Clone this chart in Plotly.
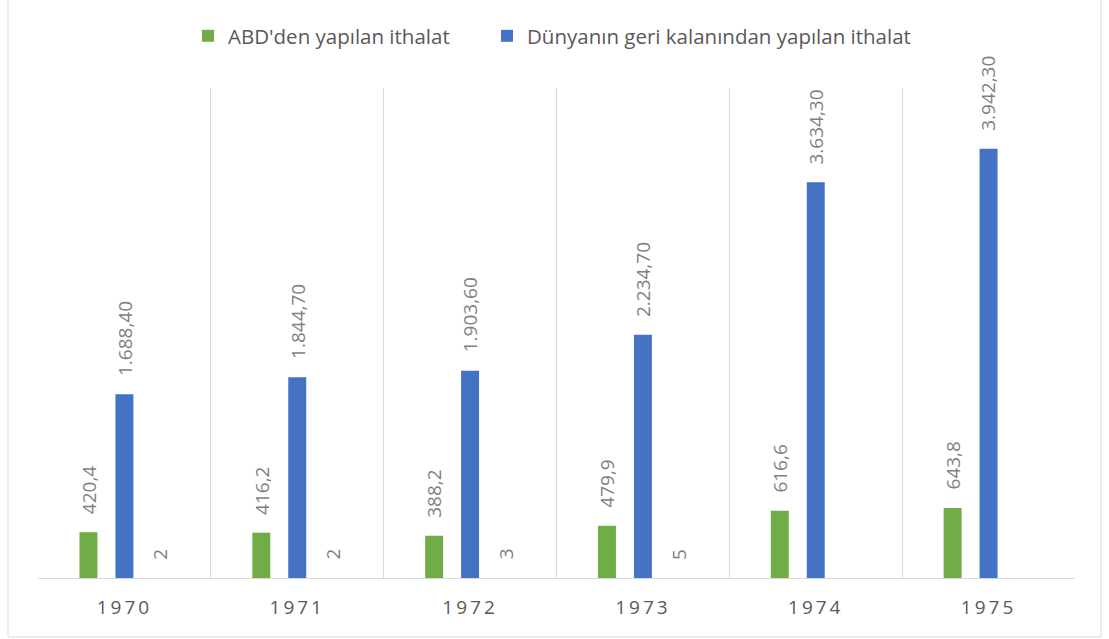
import plotly.graph_objects as go

years = ["1970", "1971", "1972", "1973", "1974", "1975"]
abd_imports = [420.4, 416.2, 388.2, 479.9, 616.6, 643.8]
world_imports = [1688.4, 1844.7, 1903.6, 2234.7, 3634.3, 3942.3]
third_series = [2, 2, 3, 5, None, None]

series_names = ["ABD'den yapılan ithalat", "Dünyanın geri kalanından yapılan ithalat"]
GREEN = "#70AD47"
BLUE = "#4472C4"
LABEL_COLOR = "#7F7F7F"
FONT = "Open Sans"


def tr_fmt(v, dec):
    s = f"{v:,.{dec}f}"
    return s.replace(",", "X").replace(".", ",").replace("X", ".")


# plot-area geometry in pixels
L, R, T, B = 38, 34, 88, 61
W, H = 1109 - L - R, 639 - T - B
def px_x(p):
    return (p - L) / W
def px_y(p):
    return (639 - B - p) / H


fig = go.Figure()
fig.add_trace(go.Bar(x=years, y=abd_imports, name=series_names[0], legend="legend",
                     marker=dict(color=GREEN, line=dict(width=0))))
fig.add_trace(go.Bar(x=years, y=world_imports, name=series_names[1], legend="legend2",
                     marker=dict(color=BLUE, line=dict(width=0))))
fig.add_trace(go.Bar(x=years, y=third_series, name="", showlegend=False,
                     marker=dict(color="rgba(165,165,165,0)", line=dict(width=0))))

annotations = []
for vals, dec, shift in [(abd_imports, 1, -36), (world_imports, 2, 0), (third_series, 0, 36)]:
    for i, v in enumerate(vals):
        if v is None:
            continue
        annotations.append(dict(
            x=i, y=v, xref="x", yref="y", text=tr_fmt(v, dec),
            showarrow=False, textangle=-90, xanchor="center", yanchor="bottom",
            xshift=shift, yshift=16,
            font=dict(family=FONT, size=19, color=LABEL_COLOR),
        ))

shapes = [dict(type="rect", xref="paper", yref="paper",
               x0=px_x(8), x1=px_x(1101), y0=px_y(637), y1=px_y(-3),
               line=dict(color="#D9D9D9", width=1), fillcolor="rgba(0,0,0,0)", layer="below")]

legend_font = dict(family=FONT, size=20.5, color="#595959")

fig.update_layout(
    width=1109, height=639,
    margin=dict(l=L, r=R, t=T, b=B),
    paper_bgcolor="white", plot_bgcolor="white",
    barmode="group", bargap=0.376, bargroupgap=0.5,
    font=dict(family=FONT, color="#595959"),
    legend=dict(orientation="h", x=px_x(188), xanchor="left", y=px_y(36), yanchor="middle",
                font=legend_font, itemclick=False, bgcolor="rgba(0,0,0,0)"),
    legend2=dict(orientation="h", x=px_x(487), xanchor="left", y=px_y(36), yanchor="middle",
                 font=legend_font, itemclick=False, bgcolor="rgba(0,0,0,0)"),
    xaxis=dict(type="category", showgrid=True, gridcolor="#D9D9D9", gridwidth=1,
               tickson="boundaries", ticks="", showline=True, linecolor="#D9D9D9",
               linewidth=1, tickfont=dict(family=FONT, size=19, color="#595959"),
               ticklabelstandoff=12, fixedrange=True),
    yaxis=dict(range=[0, 4500], visible=False, showgrid=False, zeroline=False, fixedrange=True),
    annotations=annotations,
    shapes=shapes,
)

post = """
document.body.style.margin = '0';
document.querySelectorAll('.xtick text').forEach(function (t) {
  t.style.letterSpacing = '3px';
});
"""

fig.write_html("out.html", post_script=post, config={"displayModeBar": False})
